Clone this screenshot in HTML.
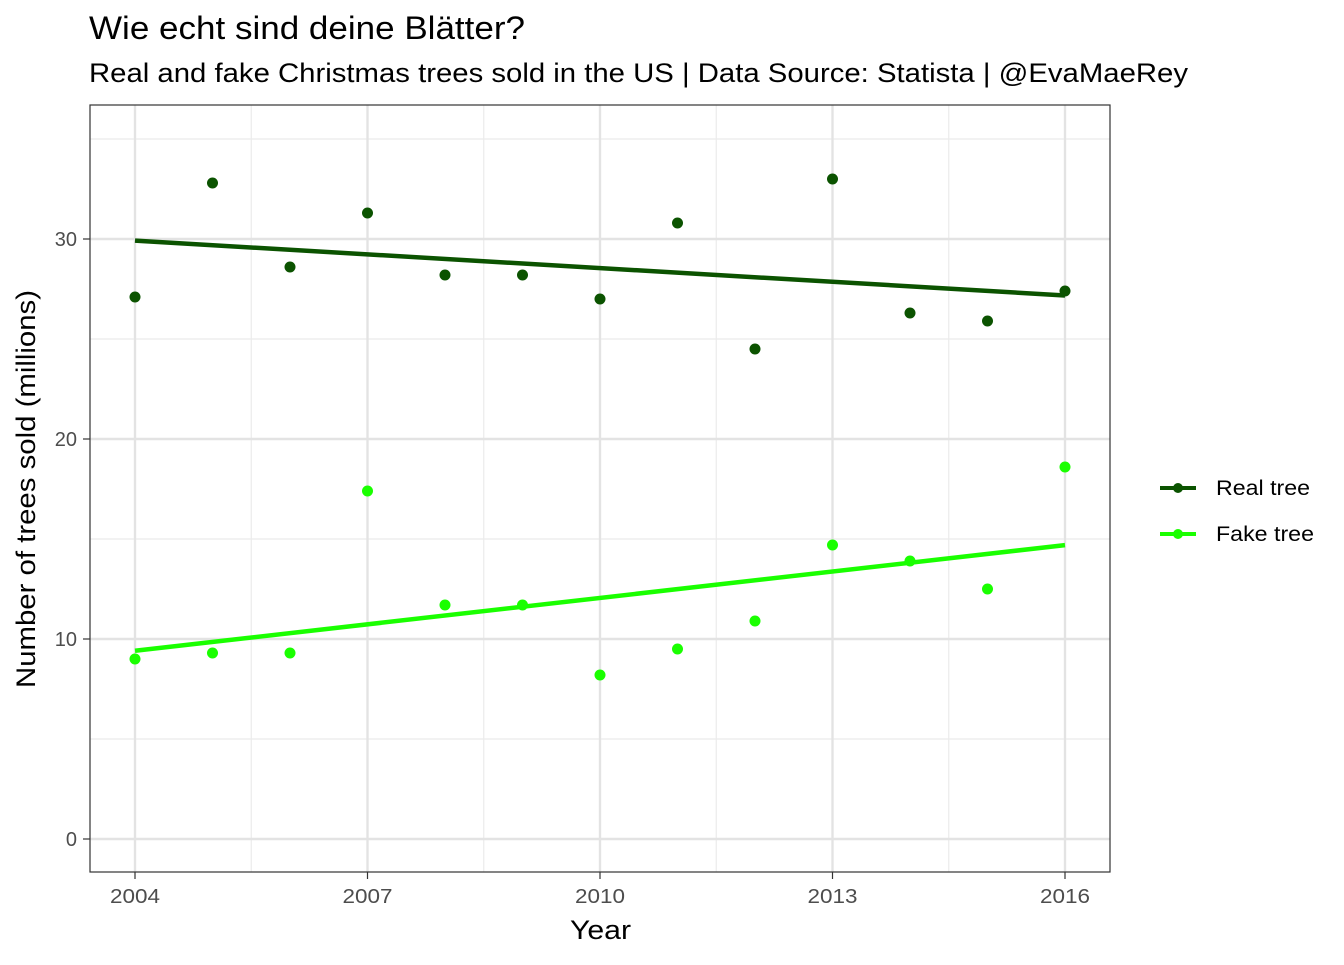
<!DOCTYPE html>
<html><head><meta charset="utf-8"><style>
body{margin:0;background:#fff}
svg{font-family:"Liberation Sans",Arial,sans-serif}
</style></head><body>
<svg id="chart" width="1344" height="960" xmlns="http://www.w3.org/2000/svg">
<text x="89" y="39" font-size="32" textLength="436" lengthAdjust="spacingAndGlyphs" fill="#000">Wie echt sind deine Blätter?</text>
<text x="89" y="82" font-size="27" textLength="1099" lengthAdjust="spacingAndGlyphs" fill="#000">Real and fake Christmas trees sold in the US | Data Source: Statista | @EvaMaeRey</text>
<g id="grid"></g>
<g id="marks"></g>
<rect x="90" y="105" width="1020" height="767" fill="none" stroke="#333" stroke-width="1.2"/>
<g id="axes"></g>
<text x="570" y="939" font-size="27" textLength="61" lengthAdjust="spacingAndGlyphs">Year</text>
<text transform="translate(35,489) rotate(-90)" font-size="27" text-anchor="middle" textLength="398" lengthAdjust="spacingAndGlyphs">Number of trees sold (millions)</text>
<g>
<g>
<line x1="1160" y1="488" x2="1196" y2="488" stroke="#0b5300" stroke-width="4"/>
<circle cx="1178" cy="488" r="5" fill="#0b5300"/>
<text x="1216" y="495" font-size="21" textLength="94" lengthAdjust="spacingAndGlyphs">Real tree</text></g>
<g>
<line x1="1160" y1="534" x2="1196" y2="534" stroke="#1aff00" stroke-width="4"/>
<circle cx="1178" cy="534" r="5" fill="#1aff00"/>
<text x="1216" y="541" font-size="21" textLength="98" lengthAdjust="spacingAndGlyphs">Fake tree</text></g>
</g>
</svg>
<script>
const years=[2004,2005,2006,2007,2008,2009,2010,2011,2012,2013,2014,2015,2016];
const realTrees=[27.1,32.8,28.6,31.3,28.2,28.2,27.0,30.8,24.5,33.0,26.3,25.9,27.4];
const fakeTrees=[9.0,9.3,9.3,17.4,11.7,11.7,8.2,9.5,10.9,14.7,13.9,12.5,18.6];
const xTicks=[2004,2007,2010,2013,2016];
const xMinor=[2005.5,2008.5,2011.5,2014.5];
const yTicks=[0,10,20,30];
const yMinor=[5,15,25,35];
const NS="http://www.w3.org/2000/svg";
const X=v=>135+(v-2004)*77.5;
const Y=v=>839-v*20;
function mk(p,t,a){const e=document.createElementNS(NS,t);for(const k in a)e.setAttribute(k,a[k]);p.appendChild(e);return e;}
const grid=document.getElementById('grid'),marks=document.getElementById('marks'),axes=document.getElementById('axes');
xMinor.forEach(v=>{const l=mk(grid,'line',{x1:X(v),x2:X(v),y1:105,y2:872,stroke:'#ebebeb','stroke-width':1.2});

});
yMinor.forEach(v=>{const l=mk(grid,'line',{x1:90,x2:1110,y1:Y(v),y2:Y(v),stroke:'#ebebeb','stroke-width':1.2});

});
xTicks.forEach(v=>{const l=mk(grid,'line',{x1:X(v),x2:X(v),y1:105,y2:872,stroke:'#e3e3e3','stroke-width':2.4});


const t=mk(axes,'line',{x1:X(v),x2:X(v),y1:872,y2:879,stroke:'#333','stroke-width':1.2});


const tx=mk(axes,'text',{x:X(v),y:903,'font-size':20,'text-anchor':'middle',fill:'#4d4d4d',textLength:50,lengthAdjust:'spacingAndGlyphs'});tx.textContent=v;

});
yTicks.forEach(v=>{const l=mk(grid,'line',{x1:90,x2:1110,y1:Y(v),y2:Y(v),stroke:'#e3e3e3','stroke-width':2.4});


const t=mk(axes,'line',{x1:83,x2:90,y1:Y(v),y2:Y(v),stroke:'#333','stroke-width':1.2});


const tx=mk(axes,'text',{x:77,y:Y(v)+7,'font-size':20,'text-anchor':'end',fill:'#4d4d4d'});tx.textContent=v;

});
function fit(ys){const n=years.length;const mx=years.reduce((a,b)=>a+b)/n,my=ys.reduce((a,b)=>a+b)/n;
let sxy=0,sxx=0;years.forEach((x,i)=>{sxy+=(x-mx)*(ys[i]-my);sxx+=(x-mx)*(x-mx);});const b=sxy/sxx;return x=>my+b*(x-mx);}
function series(ys,col,name){
const f=fit(ys);const x0=years[0],x1=years[years.length-1];
const l=mk(marks,'line',{x1:X(x0),y1:Y(f(x0)),x2:X(x1),y2:Y(f(x1)),stroke:col,'stroke-width':4.5});


ys.forEach((v,i)=>{const c=mk(marks,'circle',{cx:X(years[i]),cy:Y(v),r:5.5,fill:col});

});}
series(realTrees,'#0b5300','real-tree');
series(fakeTrees,'#1aff00','fake-tree');
</script>
</body></html>
